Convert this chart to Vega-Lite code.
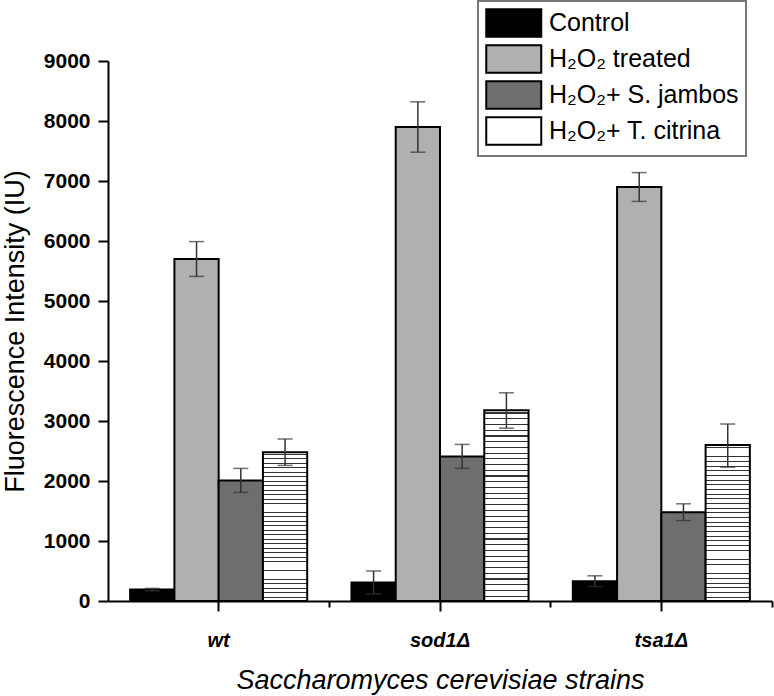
{
  "$schema": "https://vega.github.io/schema/vega-lite/v6.json",
  "width": 664,
  "height": 540,
  "autosize": "none",
  "padding": {"left": 108, "top": 61, "right": 2, "bottom": 95},
  "background": "white",
  "config": {
    "view": {"stroke": null},
    "font": "Liberation Sans",
    "axis": {"domainColor": "black", "domainWidth": 2, "tickColor": "black", "tickWidth": 2, "grid": false, "labelColor": "black", "titleColor": "black"}
  },
  "data": {
    "values": [
      {"strain": "wt", "treatment": "Control", "value": 190, "lo": 170, "hi": 210},
      {"strain": "wt", "treatment": "H₂O₂ treated", "value": 5700, "lo": 5410, "hi": 5990},
      {"strain": "wt", "treatment": "H₂O₂+ S. jambos", "value": 2010, "lo": 1810, "hi": 2210},
      {"strain": "wt", "treatment": "H₂O₂+ T. citrina", "value": 2480, "lo": 2260, "hi": 2700},
      {"strain": "sod1Δ", "treatment": "Control", "value": 310, "lo": 120, "hi": 500},
      {"strain": "sod1Δ", "treatment": "H₂O₂ treated", "value": 7900, "lo": 7480, "hi": 8320},
      {"strain": "sod1Δ", "treatment": "H₂O₂+ S. jambos", "value": 2410, "lo": 2210, "hi": 2610},
      {"strain": "sod1Δ", "treatment": "H₂O₂+ T. citrina", "value": 3180, "lo": 2880, "hi": 3470},
      {"strain": "tsa1Δ", "treatment": "Control", "value": 330, "lo": 240, "hi": 420},
      {"strain": "tsa1Δ", "treatment": "H₂O₂ treated", "value": 6900, "lo": 6660, "hi": 7140},
      {"strain": "tsa1Δ", "treatment": "H₂O₂+ S. jambos", "value": 1480, "lo": 1340, "hi": 1620},
      {"strain": "tsa1Δ", "treatment": "H₂O₂+ T. citrina", "value": 2600, "lo": 2230, "hi": 2950}
    ]
  },
  "resolve": {"axis": {"x": "independent"}},
  "layer": [
    {
      "mark": {"type": "bar", "stroke": "black", "strokeWidth": 2},
      "encoding": {
        "x": {
          "field": "strain", "type": "nominal", "sort": ["wt", "sod1Δ", "tsa1Δ"],
          "scale": {"paddingInner": 0.2, "paddingOuter": 0.1},
          "axis": {"orient": "bottom", "labelAngle": 0, "tickSize": 10, "labelPadding": 19, "labelFontSize": 20, "labelFontWeight": "bold", "labelFontStyle": "italic",
                   "title": "Saccharomyces cerevisiae strains", "titleFontSize": 27, "titleFontWeight": "normal", "titleFontStyle": "italic", "titlePadding": 17}
        },
        "xOffset": {"field": "treatment", "type": "nominal", "sort": ["Control", "H₂O₂ treated", "H₂O₂+ S. jambos", "H₂O₂+ T. citrina"], "scale": {"paddingInner": 0, "paddingOuter": 0}},
        "y": {
          "field": "value", "type": "quantitative",
          "scale": {"domain": [0, 9000], "nice": false},
          "axis": {
            "values": [0, 500, 1000, 1500, 2000, 2500, 3000, 3500, 4000, 4500, 5000, 5500, 6000, 6500, 7000, 7500, 8000, 8500, 9000],
            "labelExpr": "datum.value % 1000 === 0 ? datum.label : ''",
            "format": "d",
            "tickSize": {"condition": {"test": "datum.value % 1000 === 0", "value": 10}, "value": 5},
            "labelFontSize": 21, "labelFontWeight": "bold", "labelPadding": 8,
            "title": "Fluorescence Intensity (IU)", "titleFontSize": 27, "titleFontWeight": "normal", "titlePadding": 14
          }
        },
        "fill": {
          "condition": {
            "test": "datum.treatment === 'H₂O₂+ T. citrina'",
            "value": {
              "gradient": "linear", "x1": 0, "y1": 0, "x2": 0, "y2": 1,
              "stops": [
                {"offset": 0, "color": "#ffffff"},
                {"offset": 0.012, "color": "#ffffff"}, {"offset": 0.012, "color": "#333333"}, {"offset": 0.018, "color": "#333333"}, {"offset": 0.018, "color": "#ffffff"},
                {"offset": 0.042, "color": "#ffffff"}, {"offset": 0.042, "color": "#333333"}, {"offset": 0.048, "color": "#333333"}, {"offset": 0.048, "color": "#ffffff"},
                {"offset": 0.072, "color": "#ffffff"}, {"offset": 0.072, "color": "#333333"}, {"offset": 0.078, "color": "#333333"}, {"offset": 0.078, "color": "#ffffff"},
                {"offset": 0.102, "color": "#ffffff"}, {"offset": 0.102, "color": "#333333"}, {"offset": 0.108, "color": "#333333"}, {"offset": 0.108, "color": "#ffffff"},
                {"offset": 0.132, "color": "#ffffff"}, {"offset": 0.132, "color": "#333333"}, {"offset": 0.138, "color": "#333333"}, {"offset": 0.138, "color": "#ffffff"},
                {"offset": 0.162, "color": "#ffffff"}, {"offset": 0.162, "color": "#333333"}, {"offset": 0.168, "color": "#333333"}, {"offset": 0.168, "color": "#ffffff"},
                {"offset": 0.192, "color": "#ffffff"}, {"offset": 0.192, "color": "#333333"}, {"offset": 0.198, "color": "#333333"}, {"offset": 0.198, "color": "#ffffff"},
                {"offset": 0.222, "color": "#ffffff"}, {"offset": 0.222, "color": "#333333"}, {"offset": 0.228, "color": "#333333"}, {"offset": 0.228, "color": "#ffffff"},
                {"offset": 0.252, "color": "#ffffff"}, {"offset": 0.252, "color": "#333333"}, {"offset": 0.258, "color": "#333333"}, {"offset": 0.258, "color": "#ffffff"},
                {"offset": 0.282, "color": "#ffffff"}, {"offset": 0.282, "color": "#333333"}, {"offset": 0.288, "color": "#333333"}, {"offset": 0.288, "color": "#ffffff"},
                {"offset": 0.312, "color": "#ffffff"}, {"offset": 0.312, "color": "#333333"}, {"offset": 0.318, "color": "#333333"}, {"offset": 0.318, "color": "#ffffff"},
                {"offset": 0.342, "color": "#ffffff"}, {"offset": 0.342, "color": "#333333"}, {"offset": 0.348, "color": "#333333"}, {"offset": 0.348, "color": "#ffffff"},
                {"offset": 0.372, "color": "#ffffff"}, {"offset": 0.372, "color": "#333333"}, {"offset": 0.378, "color": "#333333"}, {"offset": 0.378, "color": "#ffffff"},
                {"offset": 0.402, "color": "#ffffff"}, {"offset": 0.402, "color": "#333333"}, {"offset": 0.408, "color": "#333333"}, {"offset": 0.408, "color": "#ffffff"},
                {"offset": 0.432, "color": "#ffffff"}, {"offset": 0.432, "color": "#333333"}, {"offset": 0.438, "color": "#333333"}, {"offset": 0.438, "color": "#ffffff"},
                {"offset": 0.462, "color": "#ffffff"}, {"offset": 0.462, "color": "#333333"}, {"offset": 0.468, "color": "#333333"}, {"offset": 0.468, "color": "#ffffff"},
                {"offset": 0.492, "color": "#ffffff"}, {"offset": 0.492, "color": "#333333"}, {"offset": 0.498, "color": "#333333"}, {"offset": 0.498, "color": "#ffffff"},
                {"offset": 0.522, "color": "#ffffff"}, {"offset": 0.522, "color": "#333333"}, {"offset": 0.528, "color": "#333333"}, {"offset": 0.528, "color": "#ffffff"},
                {"offset": 0.552, "color": "#ffffff"}, {"offset": 0.552, "color": "#333333"}, {"offset": 0.558, "color": "#333333"}, {"offset": 0.558, "color": "#ffffff"},
                {"offset": 0.582, "color": "#ffffff"}, {"offset": 0.582, "color": "#333333"}, {"offset": 0.588, "color": "#333333"}, {"offset": 0.588, "color": "#ffffff"},
                {"offset": 0.612, "color": "#ffffff"}, {"offset": 0.612, "color": "#333333"}, {"offset": 0.618, "color": "#333333"}, {"offset": 0.618, "color": "#ffffff"},
                {"offset": 0.642, "color": "#ffffff"}, {"offset": 0.642, "color": "#333333"}, {"offset": 0.648, "color": "#333333"}, {"offset": 0.648, "color": "#ffffff"},
                {"offset": 0.672, "color": "#ffffff"}, {"offset": 0.672, "color": "#333333"}, {"offset": 0.678, "color": "#333333"}, {"offset": 0.678, "color": "#ffffff"},
                {"offset": 0.702, "color": "#ffffff"}, {"offset": 0.702, "color": "#333333"}, {"offset": 0.708, "color": "#333333"}, {"offset": 0.708, "color": "#ffffff"},
                {"offset": 0.732, "color": "#ffffff"}, {"offset": 0.732, "color": "#333333"}, {"offset": 0.738, "color": "#333333"}, {"offset": 0.738, "color": "#ffffff"},
                {"offset": 0.762, "color": "#ffffff"}, {"offset": 0.762, "color": "#333333"}, {"offset": 0.768, "color": "#333333"}, {"offset": 0.768, "color": "#ffffff"},
                {"offset": 0.792, "color": "#ffffff"}, {"offset": 0.792, "color": "#333333"}, {"offset": 0.798, "color": "#333333"}, {"offset": 0.798, "color": "#ffffff"},
                {"offset": 0.822, "color": "#ffffff"}, {"offset": 0.822, "color": "#333333"}, {"offset": 0.828, "color": "#333333"}, {"offset": 0.828, "color": "#ffffff"},
                {"offset": 0.852, "color": "#ffffff"}, {"offset": 0.852, "color": "#333333"}, {"offset": 0.858, "color": "#333333"}, {"offset": 0.858, "color": "#ffffff"},
                {"offset": 0.882, "color": "#ffffff"}, {"offset": 0.882, "color": "#333333"}, {"offset": 0.888, "color": "#333333"}, {"offset": 0.888, "color": "#ffffff"},
                {"offset": 0.912, "color": "#ffffff"}, {"offset": 0.912, "color": "#333333"}, {"offset": 0.918, "color": "#333333"}, {"offset": 0.918, "color": "#ffffff"},
                {"offset": 0.942, "color": "#ffffff"}, {"offset": 0.942, "color": "#333333"}, {"offset": 0.948, "color": "#333333"}, {"offset": 0.948, "color": "#ffffff"},
                {"offset": 0.972, "color": "#ffffff"}, {"offset": 0.972, "color": "#333333"}, {"offset": 0.978, "color": "#333333"}, {"offset": 0.978, "color": "#ffffff"},
                {"offset": 1, "color": "#ffffff"}
              ]
            }
          },
          "field": "treatment", "type": "nominal",
          "scale": {"domain": ["Control", "H₂O₂ treated", "H₂O₂+ S. jambos", "H₂O₂+ T. citrina"], "range": ["#000000", "#b0b0b0", "#6e6e6e", "#ffffff"]},
          "legend": {
            "orient": "none", "legendX": 370, "legendY": -60, "title": null,
            "symbolType": "M-1,-1H3V1H-1Z", "symbolSize": 756, "symbolStrokeColor": "black", "symbolStrokeWidth": 2, "symbolOpacity": 1,
            "labelFontSize": 25, "labelColor": "black", "labelOffset": 34, "labelLimit": 400,
            "rowPadding": 0, "padding": 7, "strokeColor": "#777777", "fillColor": "white",
            "encode": {"legend": {"update": {"strokeWidth": {"value": 2}}}}
          }
        }
      }
    },
    {
      "mark": {"type": "rule", "color": "#333333", "strokeWidth": 1.5},
      "encoding": {
        "x": {"field": "strain", "type": "nominal", "sort": ["wt", "sod1Δ", "tsa1Δ"],
              "axis": {"orient": "bottom", "bandPosition": 1.125, "labels": false, "title": null, "tickSize": 6, "domain": false}},
        "xOffset": {"field": "treatment", "type": "nominal", "sort": ["Control", "H₂O₂ treated", "H₂O₂+ S. jambos", "H₂O₂+ T. citrina"]},
        "y": {"field": "lo", "type": "quantitative"},
        "y2": {"field": "hi"}
      }
    },
    {
      "mark": {"type": "tick", "color": "#333333", "size": 15, "thickness": 1.5},
      "encoding": {
        "x": {"field": "strain", "type": "nominal", "sort": ["wt", "sod1Δ", "tsa1Δ"], "axis": null},
        "xOffset": {"field": "treatment", "type": "nominal", "sort": ["Control", "H₂O₂ treated", "H₂O₂+ S. jambos", "H₂O₂+ T. citrina"]},
        "y": {"field": "hi", "type": "quantitative"}
      }
    },
    {
      "mark": {"type": "tick", "color": "#333333", "size": 15, "thickness": 1.5},
      "encoding": {
        "x": {"field": "strain", "type": "nominal", "sort": ["wt", "sod1Δ", "tsa1Δ"], "axis": null},
        "xOffset": {"field": "treatment", "type": "nominal", "sort": ["Control", "H₂O₂ treated", "H₂O₂+ S. jambos", "H₂O₂+ T. citrina"]},
        "y": {"field": "lo", "type": "quantitative"}
      }
    }
  ]
}
